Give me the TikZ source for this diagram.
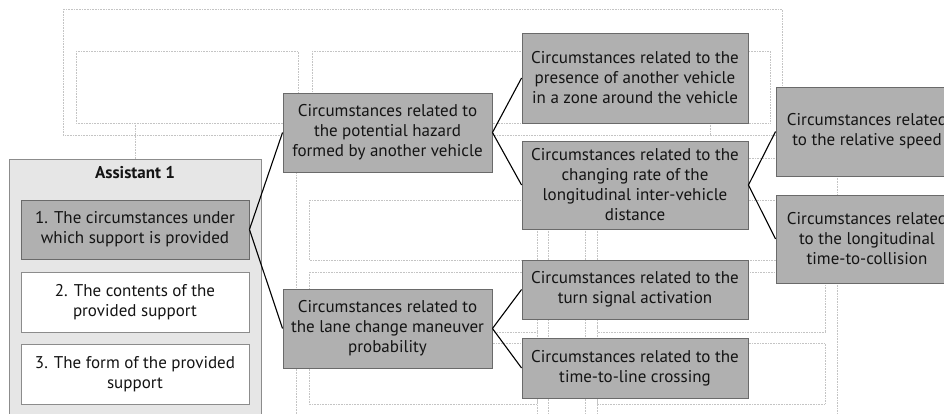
\documentclass[tikz,border=0pt]{standalone}
\usepackage{fontspec}
\setmainfont{PT Sans}
\definecolor{darkfill}{HTML}{B0B0B0}
\definecolor{boxline}{HTML}{6A6A6A}
\definecolor{panelfill}{HTML}{E6E6E6}
\definecolor{panelline}{HTML}{8C8C8C}
\definecolor{gridline}{HTML}{C4C4C4}
\definecolor{ink}{HTML}{141414}
\begin{document}
\begin{tikzpicture}[x=1pt,y=-1pt,
  every node/.style={font=\fontsize{17}{20}\selectfont, text=ink, align=center, inner sep=0pt},
  darkbox/.style={draw=boxline, fill=darkfill, line width=0.9pt, minimum width=#1},
  darkbox/.default=226pt,
  whitebox/.style={draw=panelline, fill=white, line width=0.9pt, minimum width=228pt, minimum height=60pt},
  panel/.style={draw=panelline, fill=panelfill, line width=0.9pt},
  hidden/.style={draw=gridline, densely dotted, line width=0.6pt},
  link/.style={draw=black, line width=1.1pt}]
\useasboundingbox (0,0) rectangle (944,414);

% faint wireframe of the full layout
\draw[hidden] (63,9) rectangle (782,135);
\draw[hidden] (76,51) rectangle (298,123);
\draw[hidden] (312,51) rectangle (770,123);
\draw[hidden] (309,200) rectangle (790,260);
\draw[hidden] (309,272) rectangle (537,332);
\draw[hidden] (309,343) rectangle (537,404);
\draw[hidden] (597,272) rectangle (825,332);
\draw[hidden] (597,343) rectangle (825,404);
\draw[hidden] (135,123) -- (135,159);
\draw[hidden] (710,123) -- (710,135);
\draw[hidden] (747,158) -- (776,158);
\draw[hidden] (296,135) -- (296,414);
\draw[hidden] (837,176) -- (837,414);
\foreach \gx in {537,548,585,597}
  \draw[hidden] (\gx,229) -- (\gx,414);

% assistant panel
\node[panel, minimum width=252pt, minimum height=262pt] (assistant) at (135,290) {};
\node[font=\fontsize{17}{20}\selectfont\bfseries] (title) at (135,173) {Assistant 1};
\node[darkbox=228pt, minimum height=59pt] (when) at (135,229.5)
  {1. The circumstances under\\which support is provided};
\node[whitebox] (what) at (135,302) {2. The contents of the\\provided support};
\node[whitebox] (form) at (135,374) {3. The form of the provided\\support};

% second level
\node[darkbox=209pt, minimum height=79pt] (hazard) at (387.5,132.5)
  {Circumstances related to\\the potential hazard\\formed by another vehicle};
\node[darkbox=209pt, minimum height=79pt] (lane) at (387.5,328.5)
  {Circumstances related to\\the lane change maneuver\\probability};

% third level
\node[darkbox, minimum height=90pt] (presence) at (635,78)
  {Circumstances related to the\\presence of another vehicle\\in a zone around the vehicle};
\node[darkbox, minimum height=88pt] (rate) at (635,185)
  {Circumstances related to the\\changing rate of the\\longitudinal inter-vehicle\\distance};
\node[darkbox, minimum height=59pt] (signal) at (635,289.5)
  {Circumstances related to the\\turn signal activation};
\node[darkbox, minimum height=60pt] (crossing) at (635,368)
  {Circumstances related to the\\time-to-line crossing};

% fourth level
\node[darkbox=182pt, minimum height=89pt] (speed) at (867,131.5)
  {Circumstances related\\to the relative speed};
\node[darkbox=182pt, minimum height=88pt] (ttc) at (867,239)
  {Circumstances related\\to the longitudinal\\time-to-collision};

% tree links
\draw[link] (when.east) -- (hazard.west);
\draw[link] (when.east) -- (lane.west);
\draw[link] (hazard.east) -- (presence.west);
\draw[link] (hazard.east) -- (rate.west);
\draw[link] (lane.east) -- (signal.west);
\draw[link] (lane.east) -- (crossing.west);
\draw[link] (rate.east) -- (speed.west);
\draw[link] (rate.east) -- (ttc.west);
\end{tikzpicture}
\end{document}
